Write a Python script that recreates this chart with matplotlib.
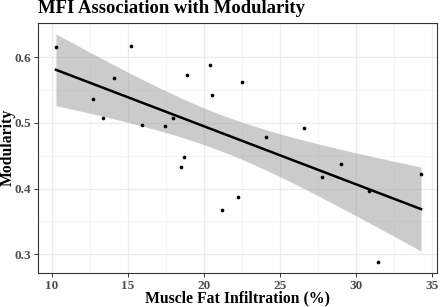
import numpy as np
import matplotlib
matplotlib.use("Agg")
import matplotlib.pyplot as plt
from matplotlib.ticker import MultipleLocator

# Muscle fat infiltration (%) vs modularity
mfi = [10.26, 12.7, 13.36, 14.08, 15.2, 15.92, 17.43, 17.96, 18.88, 18.49, 18.68,
       20.39, 20.53, 21.18, 22.24, 22.5, 24.08, 26.58, 27.76, 29.0, 30.86, 31.45, 34.28]
modularity = [0.615, 0.536, 0.507, 0.568, 0.617, 0.497, 0.495, 0.507, 0.573, 0.433, 0.448,
              0.588, 0.542, 0.367, 0.388, 0.563, 0.478, 0.492, 0.417, 0.437, 0.396, 0.288, 0.422]
x_ticks = [10, 15, 20, 25, 30, 35]
y_ticks = [0.3, 0.4, 0.5, 0.6]

T_975_DF21 = 2.0796  # t quantile for 95% CI, n - 2 = 21

plt.rcParams["font.family"] = ["Liberation Serif", "DejaVu Serif"]

x = np.array(mfi)
y = np.array(modularity)
n = len(x)
slope, intercept = np.polyfit(x, y, 1)
resid = y - (slope * x + intercept)
s = np.sqrt(np.sum(resid ** 2) / (n - 2))
xs = np.linspace(x.min(), x.max(), 80)
fit = slope * xs + intercept
se = s * np.sqrt(1 / n + (xs - x.mean()) ** 2 / np.sum((x - x.mean()) ** 2))

W, H = 440, 307
fig = plt.figure(figsize=(W / 100, H / 100), dpi=100)
ax = fig.add_axes([38.3 / W, 1 - 272.7 / H, (437 - 38.3) / W, (272.7 - 22.5) / H])

ax.fill_between(xs, fit - T_975_DF21 * se, fit + T_975_DF21 * se,
                color="#999999", alpha=0.5, linewidth=0, zorder=2)
ax.plot(xs, fit, color="black", linewidth=1.8, zorder=3)
ax.scatter(x, y, s=7, color="black", zorder=4, linewidths=0)

ax.set_xlim(9.1, 35.33)
ax.set_ylim(0.272, 0.653)
ax.set_xticks(x_ticks)
ax.set_yticks(y_ticks)
ax.xaxis.set_minor_locator(MultipleLocator(2.5))
ax.yaxis.set_minor_locator(MultipleLocator(0.05))
ax.grid(which="major", color="#EBEBEB", linewidth=0.9, zorder=0)
ax.grid(which="minor", color="#F2F2F2", linewidth=0.5, zorder=0)
ax.set_axisbelow(True)
for sp in ax.spines.values():
    sp.set_edgecolor("#333333")
    sp.set_linewidth(0.8)
ax.tick_params(which="major", length=3, width=0.7, color="#333333",
               labelsize=9.5, labelcolor="#4D4D4D", pad=2)
ax.tick_params(which="minor", length=0)
for lab in ax.get_xticklabels() + ax.get_yticklabels():
    lab.set_fontweight("bold")

# axis labels and title placed in figure pixels to match the reference
fig.text((38.3 + 437) / 2 / W, 1 - 298.5 / H, "Muscle Fat Infiltration (%)",
         fontsize=11.3, fontweight="bold", ha="center", va="center")
fig.text(7.5 / W, 1 - 147.5 / H, "Modularity", fontsize=11.3, fontweight="bold",
         rotation=90, ha="center", va="center")
fig.text(38.3 / W, 1 - 13 / H, "MFI Association with Modularity", fontsize=13.4,
         fontweight="bold", ha="left", va="baseline")

fig.savefig("out.png", dpi=100)
